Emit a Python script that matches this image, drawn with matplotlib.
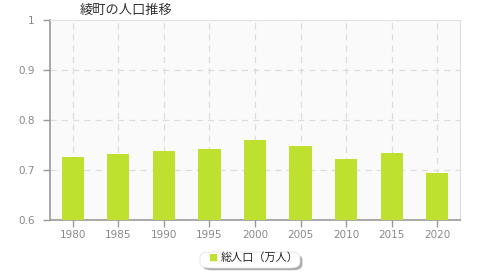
import matplotlib
matplotlib.use("Agg")
import matplotlib.pyplot as plt
from matplotlib.patches import FancyBboxPatch

plt.rcParams['font.family'] = ['Noto Sans CJK JP', 'DejaVu Sans']

years = ["1980", "1985", "1990", "1995", "2000", "2005", "2010", "2015", "2020"]
population = [0.727, 0.732, 0.739, 0.743, 0.760, 0.749, 0.723, 0.735, 0.695]
yticks = [0.6, 0.7, 0.8, 0.9, 1.0]
ytick_labels = ["0.6", "0.7", "0.8", "0.9", "1"]
title = "綾町の人口推移"
legend_label = "総人口（万人）"

fig = plt.figure(figsize=(4.8, 2.8), dpi=100)
ax = fig.add_axes([50/480, 60/280, 410/480, 200/280])
ax.set_facecolor("#fafafa")

x = list(range(len(years)))
ax.bar(x, population, width=0.49, color="#bde12e", zorder=3,
       label=legend_label)
ax.set_xlim(-0.5, len(years) - 0.5)
ax.set_ylim(0.6, 1.0)
ax.set_xticks(x)
ax.set_xticklabels(years)
ax.set_yticks(yticks)
ax.set_yticklabels(ytick_labels)

for xi in x:
    ax.axvline(xi, color="#dddddd", linestyle=(0, (5, 4)), linewidth=0.9, zorder=1)
for yv in yticks[1:-1]:
    ax.axhline(yv, color="#dddddd", linestyle=(0, (5, 4)), linewidth=0.9, zorder=1)

for s in ["top", "right"]:
    ax.spines[s].set_color("#e0e0e0")
for s in ["left", "bottom"]:
    ax.spines[s].set_color("#999999")
    ax.spines[s].set_linewidth(1.2)

ax.tick_params(axis="both", colors="#999999", labelcolor="#888888",
               labelsize=7.5, length=5, width=1)
for lab in ax.get_xticklabels() + ax.get_yticklabels():
    lab.set_family(['DejaVu Sans'])
ax.tick_params(axis="y", pad=6)
ax.tick_params(axis="x", pad=2)

fig.text(80/480, 1 - 10/280, title, fontsize=9.5, color="#333333",
         ha="left", va="center")

# legend box
bx, by, bw, bh = 200/480, 1 - 268/280, 100/480, 16/280
shadow = FancyBboxPatch((bx + 0.005, by - 0.008), bw, bh,
                        boxstyle="round,pad=0,rounding_size=0.02",
                        transform=fig.transFigure, facecolor="#8a8a8a",
                        edgecolor="none", alpha=0.7)
box = FancyBboxPatch((bx, by), bw, bh,
                     boxstyle="round,pad=0,rounding_size=0.02",
                     transform=fig.transFigure, facecolor="white",
                     edgecolor="#dddddd", linewidth=0.5)
fig.patches.extend([shadow, box])
fig.text(213/480, 1 - 258/280, "■", fontsize=6.5, color="#bde12e",
         ha="center", va="center")
fig.text(221/480, 1 - 258/280, legend_label, fontsize=8, color="#222222",
         ha="left", va="center")

fig.savefig("out.png", dpi=100)
